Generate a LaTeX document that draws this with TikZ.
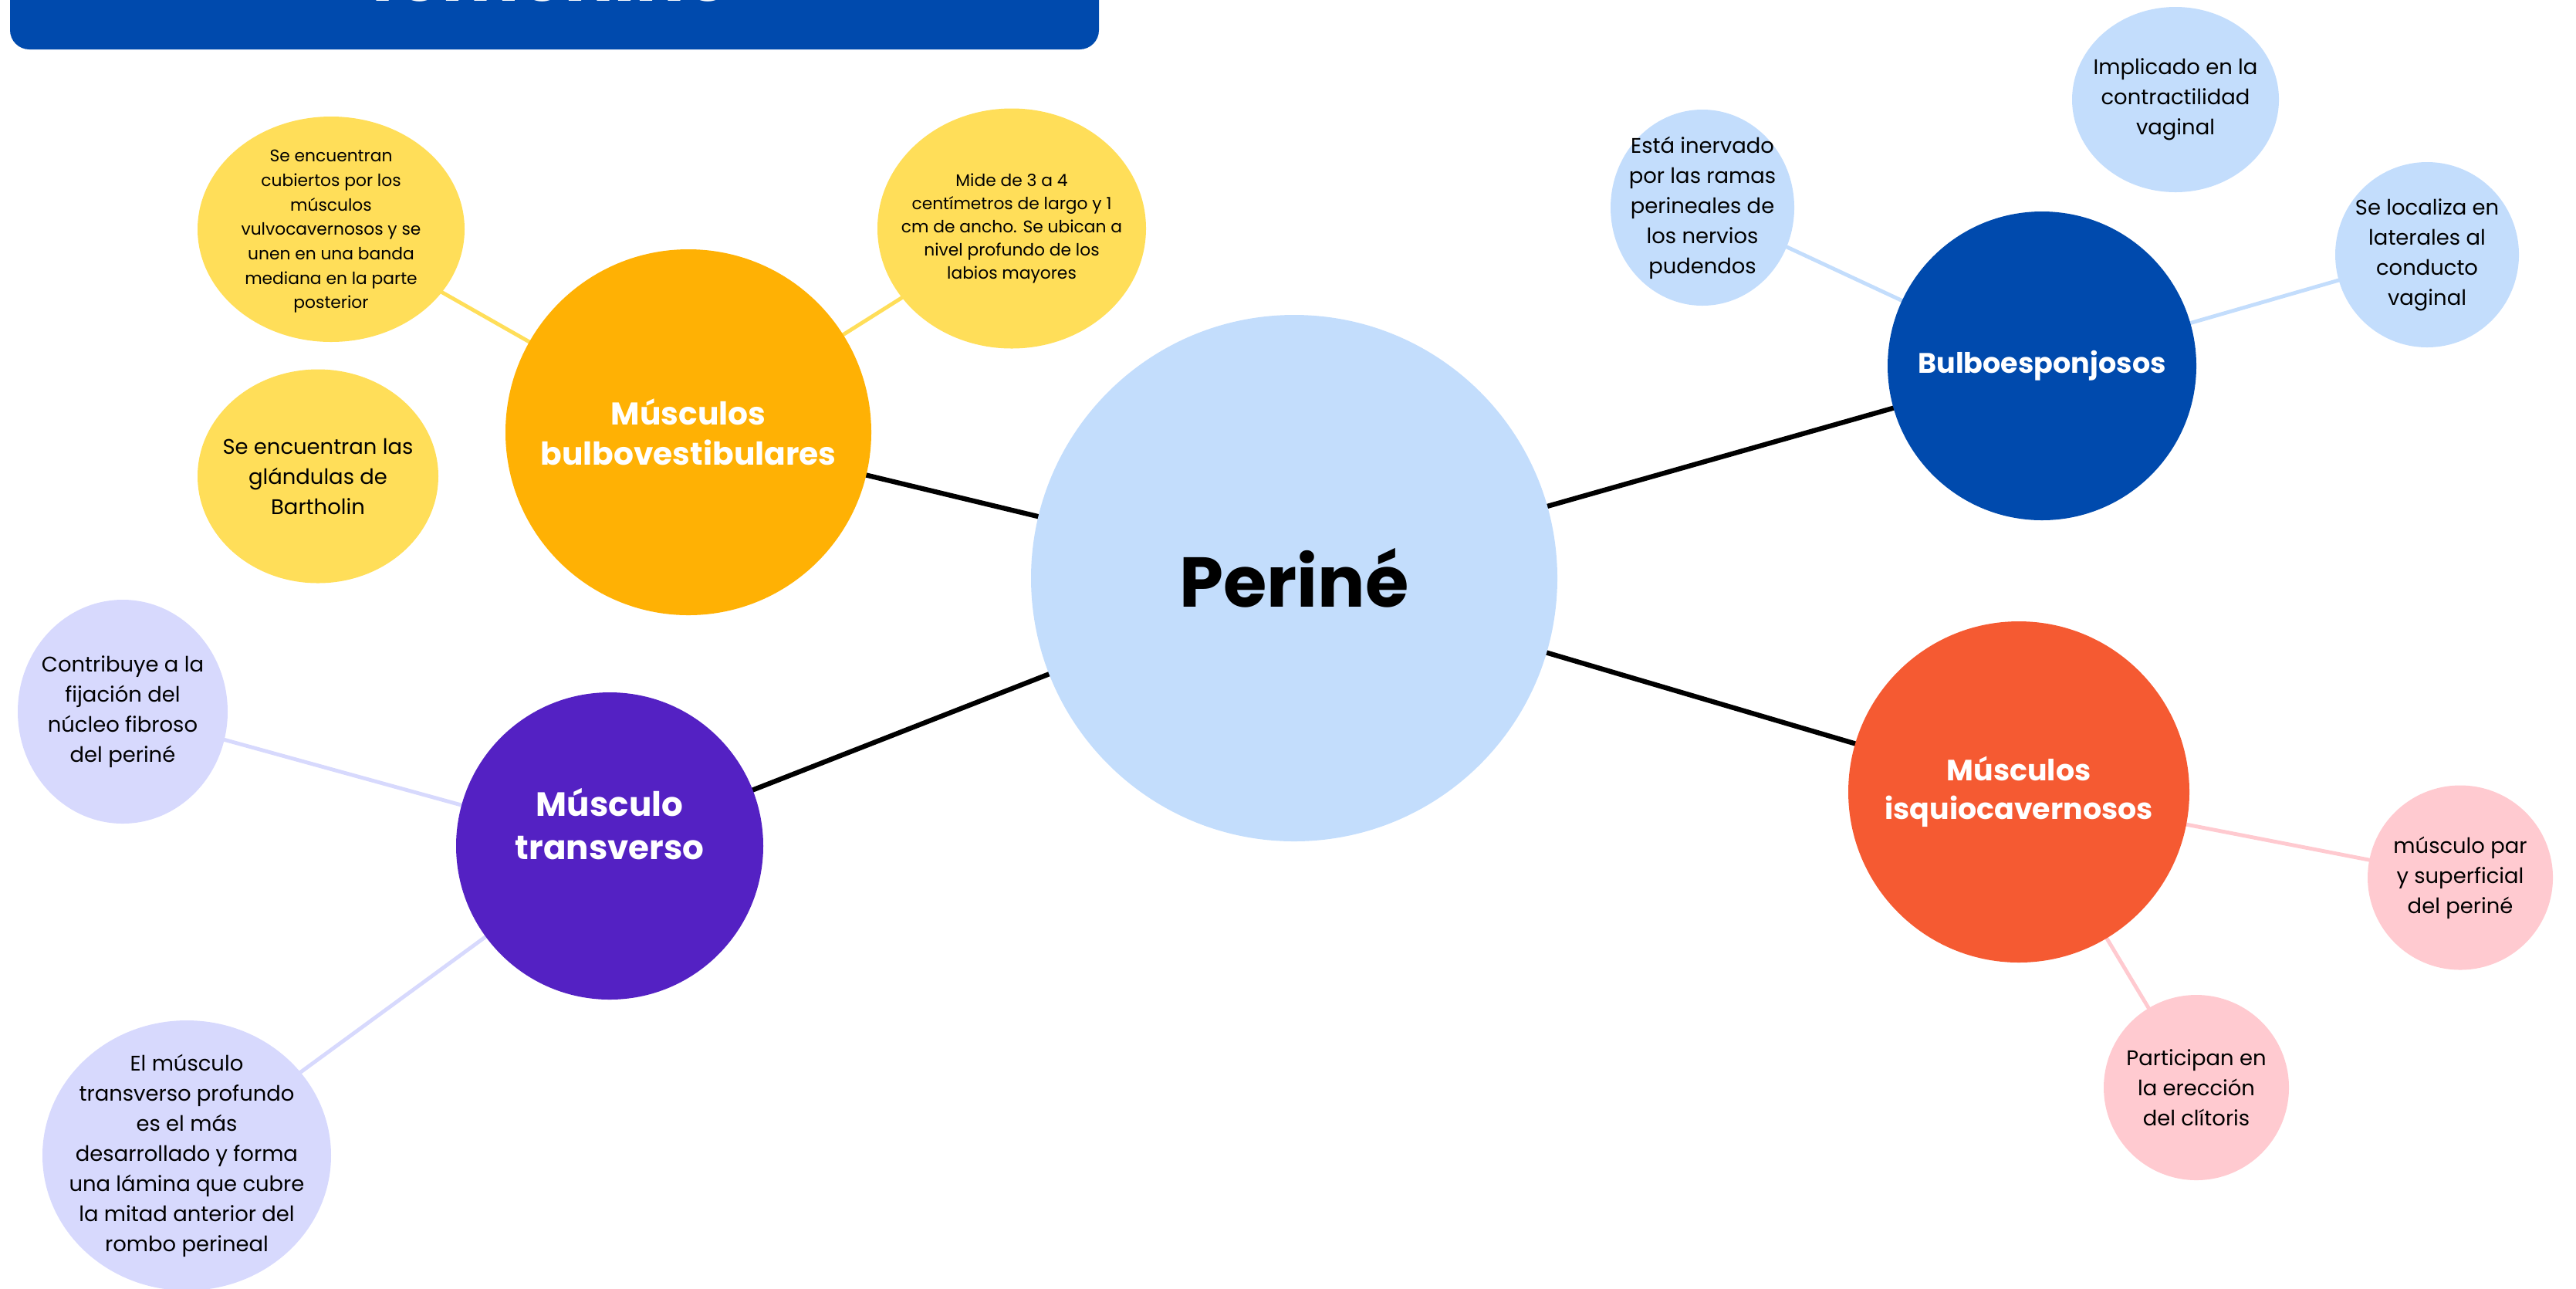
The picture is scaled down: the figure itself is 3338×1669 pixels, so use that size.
\documentclass[tikz,border=0pt]{standalone}
\usepackage{fontspec}
\setmainfont{Poppins}
\usetikzlibrary{shapes.geometric,backgrounds}
\definecolor{navy}{HTML}{004AAD}
\definecolor{sky}{HTML}{C3DDFC}
\definecolor{amber}{HTML}{FFB104}
\definecolor{lemon}{HTML}{FFDE59}
\definecolor{violet}{HTML}{5421C3}
\definecolor{lilac}{HTML}{D7D9FD}
\definecolor{coral}{HTML}{F55A32}
\definecolor{blush}{HTML}{FFCAD0}
\tikzset{
  hub/.style={circle, inner sep=0pt, align=center, text=white,
    font=\bfseries\fontsize{11.6}{14.8}\selectfont},
  bub/.style={ellipse, inner sep=0pt},
  body/.style={align=center, inner sep=0pt, font=\fontsize{7.8}{11.1}\selectfont},
  small/.style={align=center, inner sep=0pt, font=\fontsize{6.2}{8.5}\selectfont},
  trunk/.style={draw=black, line width=1.8pt},
  twig/.style={line width=1.4pt},
}
\begin{document}
\begin{tikzpicture}[x=0.1mm,y=-0.1mm]
\useasboundingbox (0,0) rectangle (3338,1669);
% title banner, runs off the top edge
\begin{scope}
\clip (0,0) rectangle (3338,1669);
\fill[navy, rounded corners=2.5mm] (13,-150) rectangle (1424,64);
\node[anchor=base, inner sep=0pt, text=white, font=\bfseries\fontsize{27}{32}\selectfont] (ttl) at (714,1) {femenino};
\end{scope}

% main hubs
\node[hub, fill=sky, text=black, font=\bfseries\fontsize{26}{30}\selectfont, minimum size=68.2mm] (per) at (1677,749) {Periné};
\node[hub, fill=amber, minimum size=47.4mm] (bv) at (892,560) {Músculos\\bulbovestibulares};
\node[hub, fill=navy, font=\bfseries\fontsize{10.4}{13}\selectfont, minimum size=40mm] (be) at (2646,474) {Bulboesponjosos};
\node[hub, fill=violet, minimum size=39.8mm] (tr) at (790,1096) {};
\node[hub, font=\bfseries\fontsize{12.4}{15.9}\selectfont] at ([yshift=2.8mm]tr.center) {Músculo\\transverso};
\node[hub, fill=coral, font=\bfseries\fontsize{10.8}{14.2}\selectfont, minimum size=44.2mm] (ic) at (2616,1026) {Músculos\\isquiocavernosos};

% bulbovestibulares
\node[bub, fill=lemon, minimum width=34.6mm, minimum height=29.2mm] (cub) at (429,297) {};
\node[small, font=\fontsize{6.2}{9}\selectfont] at ([yshift=-0.3mm]cub.center) {Se encuentran\\cubiertos por los\\músculos\\vulvocavernosos y se\\unen en una banda\\mediana en la parte\\posterior};
\node[bub, fill=lemon, minimum width=34.8mm, minimum height=31.1mm] (mide) at (1311,296) {};
\node[small] at (mide) {Mide de 3 a 4\\centímetros de largo y 1\\cm de ancho. Se ubican a\\nivel profundo de los\\labios mayores};
\node[bub, fill=lemon, minimum width=31.2mm, minimum height=27.7mm] (bart) at (412,617) {};
\node[body] at (bart) {Se encuentran las\\glándulas de\\Bartholin};

% bulboesponjosos
\node[bub, fill=sky, minimum width=23.8mm, minimum height=25.4mm] (inerv) at (2206,269) {};
\node[body] at (inerv) {Está inervado\\por las ramas\\perineales de\\los nervios\\pudendos};
\node[bub, fill=sky, minimum width=26.8mm, minimum height=24mm] (impl) at (2819,129) {};
\node[body] at (impl) {Implicado en la\\contractilidad\\vaginal};
\node[bub, fill=sky, minimum width=23.8mm, minimum height=24mm] (lat) at (3145,330) {};
\node[body] at (lat) {Se localiza en\\laterales al\\conducto\\vaginal};

% transverso
\node[bub, fill=lilac, minimum width=27.2mm, minimum height=29mm] (fij) at (159,922) {};
\node[body] at (fij) {Contribuye a la\\fijación del\\núcleo fibroso\\del periné};
\node[bub, fill=lilac, minimum width=37.4mm, minimum height=35mm] (prof) at (242,1497) {};
\node[body] at (prof) {El músculo\\transverso profundo\\es el más\\desarrollado y forma\\una lámina que cubre\\la mitad anterior del\\rombo perineal};

% isquiocavernosos
\node[bub, fill=blush, minimum width=24mm, minimum height=23.9mm] (par) at (3188,1137) {};
\node[body] at (par) {músculo par\\y superficial\\del periné};
\node[bub, fill=blush, minimum width=24mm, minimum height=24mm] (clit) at (2846,1409) {};
\node[body] at (clit) {Participan en\\la erección\\del clítoris};

% connectors behind the bubbles
\begin{scope}[on background layer]
\draw[trunk] (per.center) -- (bv.center);
\draw[trunk] (per.center) -- (be.center);
\draw[trunk] (per.center) -- (tr.center);
\draw[trunk] (per.center) -- (ic.center);
\draw[twig, lemon] (cub.center) -- (bv.center);
\draw[twig, lemon] (mide.center) -- (bv.center);
\draw[twig, sky] (inerv.center) -- (be.center);
\draw[twig, sky] (lat.center) -- (be.center);
\draw[twig, lilac] (fij.center) -- (tr.center);
\draw[twig, lilac] (prof.center) -- (tr.center);
\draw[twig, blush] (par.center) -- (ic.center);
\draw[twig, blush] (clit.center) -- (ic.center);
\end{scope}
\end{tikzpicture}
\end{document}
